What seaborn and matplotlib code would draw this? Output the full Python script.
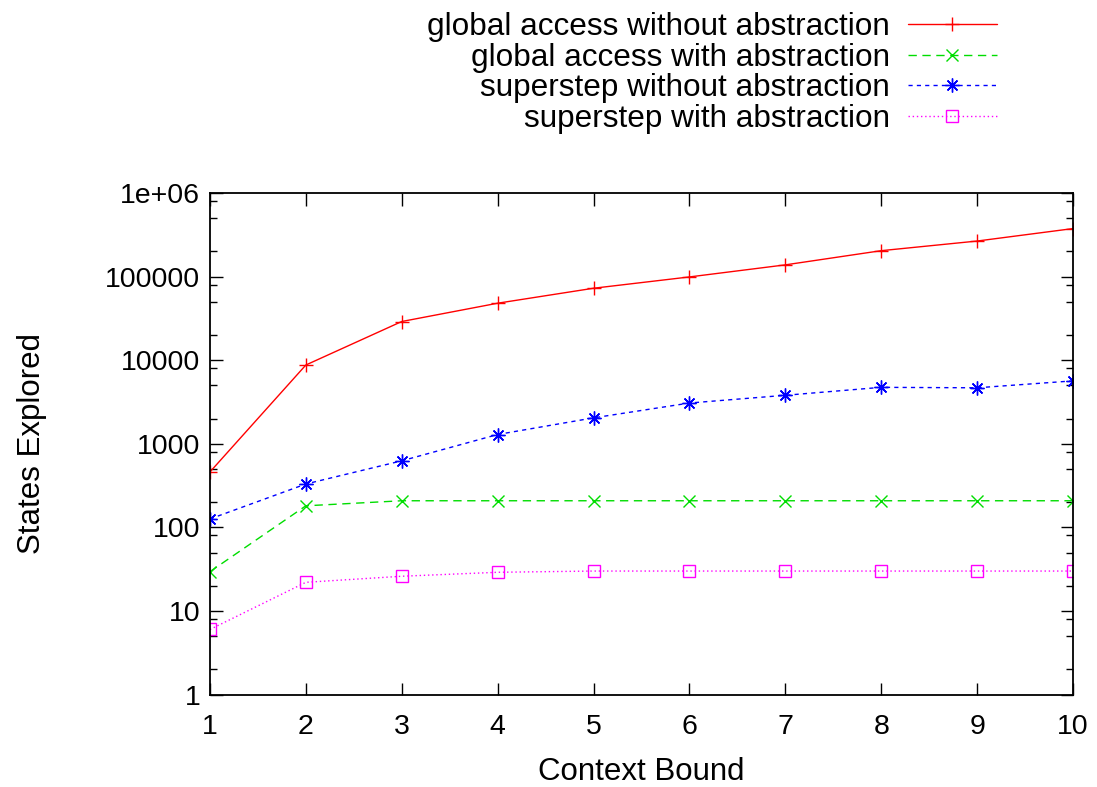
import matplotlib
matplotlib.use("Agg")
import matplotlib.pyplot as plt
import matplotlib.ticker as mticker
import seaborn as sns
import pandas as pd

context_bound = [1, 2, 3, 4, 5, 6, 7, 8, 9, 10]
global_without = [460, 8750, 29000, 48000, 72500, 99000, 138000, 204000, 266000, 375000]
global_with = [29.5, 181, 208, 208, 208, 208, 208, 208, 208, 208]
superstep_without = [126, 330, 625, 1290, 2040, 3070, 3800, 4730, 4670, 5650]
superstep_with = [6, 22, 26, 29, 30, 30, 30, 30, 30, 30]

series_names = ["global access without abstraction",
                "global access with abstraction",
                "superstep without abstraction",
                "superstep with abstraction"]
y_ticks = [1, 10, 100, 1000, 10000, 100000, 1000000]
y_tick_labels = ["1", "10", "100", "1000", "10000", "100000", "1e+06"]

sns.set_style("ticks")
plt.rcParams['font.family'] = ['Liberation Sans', 'DejaVu Sans']
plt.rcParams['text.color'] = 'black'
plt.rcParams['axes.labelcolor'] = 'black'
plt.rcParams['xtick.color'] = 'black'
plt.rcParams['ytick.color'] = 'black'

fig = plt.figure(figsize=(10.97, 7.87), dpi=100)
ax = fig.add_axes([0.1914, 0.1175, 0.7867, 0.6373])

styles = [
    dict(color="#ff0000", marker="+", dashes=(None, None), ms=10, mew=1.0),
    dict(color="#00dd00", marker="x", dashes=(6, 4), ms=8, mew=1.0),
    dict(color="#0000ff", marker=(8, 2, 0), dashes=(3, 3), ms=10, mew=1.0),
    dict(color="#ff00ff", marker="s", dashes=(1, 2), ms=8.5, mew=1.0),
]
data = [global_without, global_with, superstep_without, superstep_with]

for name, vals, st in zip(series_names, data, styles):
    df = pd.DataFrame({"x": context_bound, "y": vals})
    kw = dict(x="x", y="y", data=df, ax=ax, color=st["color"], marker=st["marker"],
              markersize=st["ms"], markeredgewidth=st["mew"], linewidth=1.0,
              label=name)
    if st["marker"] == "s":
        kw["markerfacecolor"] = "none"
        kw["markeredgecolor"] = st["color"]
    sns.lineplot(**kw)
    ln = ax.lines[-1]
    if st["dashes"][0] is not None:
        ln.set_dashes(st["dashes"])
    if st["marker"] != "s":
        ln.set_markeredgecolor(st["color"])

ax.set_yscale("log")
ax.set_xlim(1, 10)
ax.set_ylim(1, 1e6)
ax.set_xticks(context_bound)
ax.set_xticklabels([str(c) for c in context_bound])
ax.yaxis.set_major_locator(mticker.FixedLocator(y_ticks))
ax.yaxis.set_major_formatter(mticker.FixedFormatter(y_tick_labels))
ax.yaxis.set_minor_locator(mticker.LogLocator(base=10, subs=(2, 5, 8), numticks=20))
ax.yaxis.set_minor_formatter(mticker.NullFormatter())

ax.tick_params(axis="both", which="both", direction="in", top=True, right=True,
               labelsize=20.5, color="black", labelcolor="black", width=1.0)
ax.tick_params(axis="both", which="major", length=9)
ax.tick_params(axis="x", which="major", pad=14)
ax.tick_params(axis="y", which="major", pad=7)
ax.tick_params(axis="y", which="minor", length=5)
for sp in ax.spines.values():
    sp.set_linewidth(1.3)
    sp.set_color("black")

ax.set_xlabel("Context Bound", fontsize=22.5, labelpad=12)
ax.set_ylabel("States Explored", fontsize=22.5, labelpad=42)

leg = ax.legend(loc="upper right", bbox_to_anchor=(0.912, 1.36), frameon=False,
                markerfirst=False, fontsize=22.7, handlelength=2.83, handletextpad=0.57,
                labelspacing=0.015, borderaxespad=0, borderpad=0)
for h in leg.get_lines():
    h.set_linewidth(1.0)
for t in leg.get_texts():
    t.set_color("black")

fig.savefig("out.png", dpi=100)
